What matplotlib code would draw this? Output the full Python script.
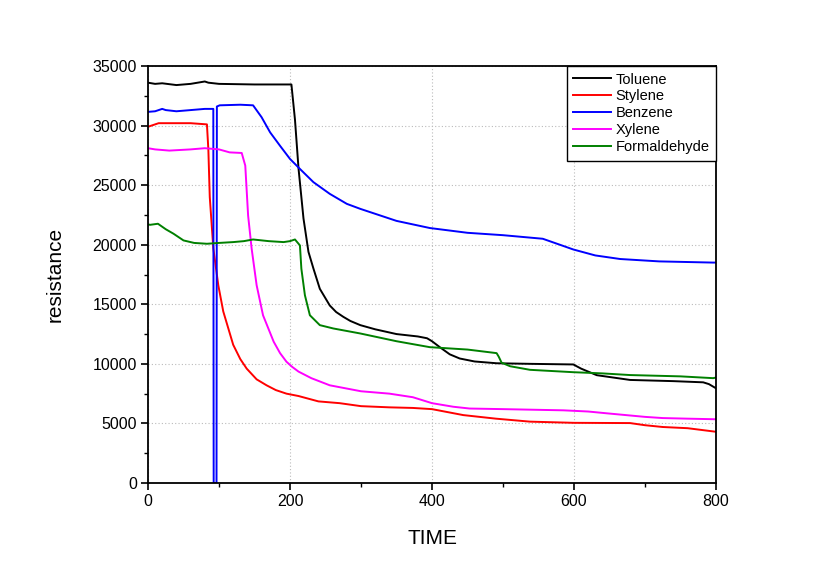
import matplotlib
matplotlib.use("Agg")
import matplotlib.pyplot as plt
from matplotlib.ticker import MultipleLocator

plt.rcParams['font.family'] = ['Liberation Sans', 'DejaVu Sans']

# ---- data ----
toluene_x = [0, 10, 20, 40, 60, 80, 85, 100, 150, 202, 207, 212, 219, 226, 233, 242, 256, 265, 275, 285,
             299, 320, 350, 380, 393, 400, 411, 425, 439, 460, 491, 540, 599, 610, 632, 679, 740, 782, 790, 800]
toluene_y = [33600, 33500, 33550, 33400, 33500, 33700, 33600, 33500, 33450, 33450, 30500, 26400, 22200,
             19400, 18000, 16300, 14900, 14350, 13950, 13600, 13250, 12900, 12500, 12300, 12150, 11900,
             11400, 10800, 10450, 10200, 10050, 10000, 9950, 9600, 9050, 8650, 8550, 8450, 8300, 7950]

stylene_x = [0, 5, 15, 40, 60, 83, 85, 87, 92, 99, 106, 120, 130, 139, 153, 167, 180, 195, 212, 240, 270,
             300, 340, 373, 400, 444, 490, 538, 600, 679, 700, 725, 760, 800]
stylene_y = [29900, 30000, 30200, 30200, 30200, 30100, 28000, 24000, 19700, 16600, 14400, 11600, 10400,
             9600, 8700, 8200, 7800, 7500, 7300, 6850, 6700, 6450, 6350, 6300, 6200, 5700, 5400, 5150,
             5050, 5030, 4850, 4700, 4600, 4300]

benzene_x = [0, 10, 20, 25, 40, 60, 80, 90, 92, 92.5, 96.5, 97, 101, 130, 148, 160, 172, 186, 200, 214,
             233, 256, 280, 299, 350, 397, 450, 500, 556, 580, 599, 630, 665, 720, 796, 800]
benzene_y = [31150, 31200, 31400, 31300, 31200, 31300, 31400, 31400, 31400, 0, 0, 31600, 31700, 31750,
             31700, 30700, 29430, 28300, 27200, 26360, 25250, 24270, 23430, 23010, 22000, 21400, 21000,
             20800, 20500, 20000, 19600, 19100, 18800, 18600, 18500, 18500]

xylene_x = [0, 10, 30, 60, 80, 100, 115, 132, 137, 141, 146, 153, 162, 177, 186, 195, 203, 212, 230,
            256, 300, 340, 373, 400, 430, 453, 500, 585, 620, 646, 700, 725, 760, 800]
xylene_y = [28100, 28000, 27900, 28000, 28100, 28000, 27750, 27700, 26640, 22450, 19660, 16600, 14080,
            11860, 10900, 10180, 9750, 9350, 8800, 8200, 7700, 7500, 7200, 6700, 6400, 6250, 6200,
            6100, 6000, 5850, 5550, 5450, 5400, 5350]

formaldehyde_x = [0, 3, 14, 25, 36, 50, 65, 83, 100, 120, 135, 148, 170, 191, 200, 207, 214, 216, 221,
                  228, 242, 261, 299, 350, 397, 450, 491, 494, 498, 510, 538, 599, 640, 679, 750, 796, 800]
formaldehyde_y = [21700, 21670, 21760, 21300, 20920, 20360, 20150, 20080, 20150, 20220, 20300, 20440,
                  20300, 20220, 20300, 20440, 19940, 17990, 15760, 14080, 13250, 12970, 12550, 11900,
                  11400, 11200, 10900, 10600, 10100, 9800, 9500, 9300, 9200, 9060, 8950, 8800, 8850]

series = [
    ("Toluene", toluene_x, toluene_y, "#000000"),
    ("Stylene", stylene_x, stylene_y, "#ff0000"),
    ("Benzene", benzene_x, benzene_y, "#0000ff"),
    ("Xylene", xylene_x, xylene_y, "#ff00ff"),
    ("Formaldehyde", formaldehyde_x, formaldehyde_y, "#008000"),
]

fig = plt.figure(figsize=(8.32, 5.81), dpi=100)
ax = fig.add_axes([148/832, 98/581, 568/832, 417/581])

for name, xs, ys, c in series:
    ax.plot(xs, ys, color=c, lw=1.4, label=name)

ax.set_xlim(0, 800)
ax.set_ylim(0, 35000)
ax.xaxis.set_major_locator(MultipleLocator(200))
ax.xaxis.set_minor_locator(MultipleLocator(100))
ax.yaxis.set_major_locator(MultipleLocator(5000))
ax.yaxis.set_minor_locator(MultipleLocator(2500))
ax.tick_params(which='major', direction='out', length=5, width=1.2, labelsize=11.5, pad=3)
ax.tick_params(which='minor', direction='out', length=3, width=1.0)
for s in ax.spines.values():
    s.set_linewidth(1.3)
ax.grid(True, which='major', linestyle=(0, (1, 2)), color='#bbbbbb', lw=0.8)
ax.set_axisbelow(True)

ax.set_xlabel("TIME", fontsize=15, labelpad=14)
ax.set_ylabel("resistance", fontsize=15, labelpad=20)

leg = ax.legend(loc='upper right', borderaxespad=0, fancybox=False, framealpha=1,
                edgecolor='black', fontsize=10.5, handlelength=2.6, handletextpad=0.3,
                labelspacing=0.2, borderpad=0.45)
leg.get_frame().set_linewidth(1.0)

fig.savefig("out.png", dpi=100)
